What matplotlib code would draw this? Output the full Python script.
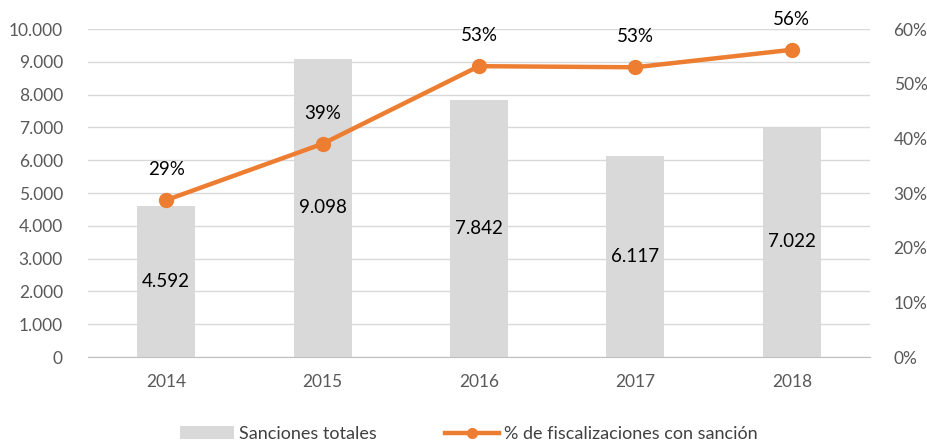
import matplotlib
matplotlib.use('Agg')
import matplotlib.pyplot as plt
from matplotlib.ticker import FuncFormatter

# data
years = ['2014', '2015', '2016', '2017', '2018']
sanciones = [4592, 9098, 7842, 6117, 7022]
pct_sancion = [28.7, 39.0, 53.2, 53.0, 56.2]
pct_labels = ['29%', '39%', '53%', '53%', '56%']

plt.rcParams['font.family'] = ['Lato', 'DejaVu Sans']

fig = plt.figure(figsize=(9.28, 4.45), dpi=100)
ax = fig.add_axes([88 / 928, 1 - 357 / 445, 782 / 928, 328 / 445])
ax2 = ax.twinx()

x = range(len(years))
bars = ax.bar(x, sanciones, width=0.37, color='#D9D9D9', zorder=2,
              label='Sanciones totales')
for i, v in enumerate(sanciones):
    ax.text(i, v / 2, f'{v:,}'.replace(',', '.'), ha='center', va='center',
            fontsize=13.5, color='black', zorder=5)

line, = ax2.plot(x, pct_sancion, color='#ED7D31', lw=3.2, marker='o',
                 markersize=10, zorder=4,
                 label='% de fiscalizaciones con sanción')
for i, (v, lab) in enumerate(zip(pct_sancion, pct_labels)):
    ax2.annotate(lab, (i, v), xytext=(0, 22), textcoords='offset points',
                 ha='center', va='center', fontsize=13.5, color='black')

ax.set_xlim(-0.5, len(years) - 0.5)
ax.set_ylim(0, 10000)
ax.set_yticks(range(0, 10001, 1000))
ax.yaxis.set_major_formatter(FuncFormatter(lambda v, p: f'{int(v):,}'.replace(',', '.')))
ax2.set_ylim(0, 60)
ax2.set_yticks(range(0, 61, 10))
ax2.yaxis.set_major_formatter(FuncFormatter(lambda v, p: f'{int(v)}%'))

ax.set_xticks(list(x))
ax.set_xticklabels(years)
ax.grid(axis='y', color='#D9D9D9', lw=1, zorder=0)
ax.set_axisbelow(True)

for a in (ax, ax2):
    for s in ('top', 'left', 'right', 'bottom'):
        a.spines[s].set_visible(False)
    a.tick_params(length=0, labelsize=12.5, labelcolor='#595959')
ax.spines['bottom'].set_visible(True)
ax.spines['bottom'].set_color('#BFBFBF')
ax.tick_params(axis='y', pad=18)
ax2.tick_params(axis='y', pad=17)
ax.tick_params(axis='x', pad=12)

fig.legend(handles=[bars, line], loc='lower center', ncol=2, frameon=False,
           bbox_to_anchor=(0.505, -0.03), fontsize=13, labelcolor='#404040',
           handlelength=3.0, columnspacing=3.8, handletextpad=0.25,
           markerscale=0.7)

fig.savefig('out.png', dpi=100)
